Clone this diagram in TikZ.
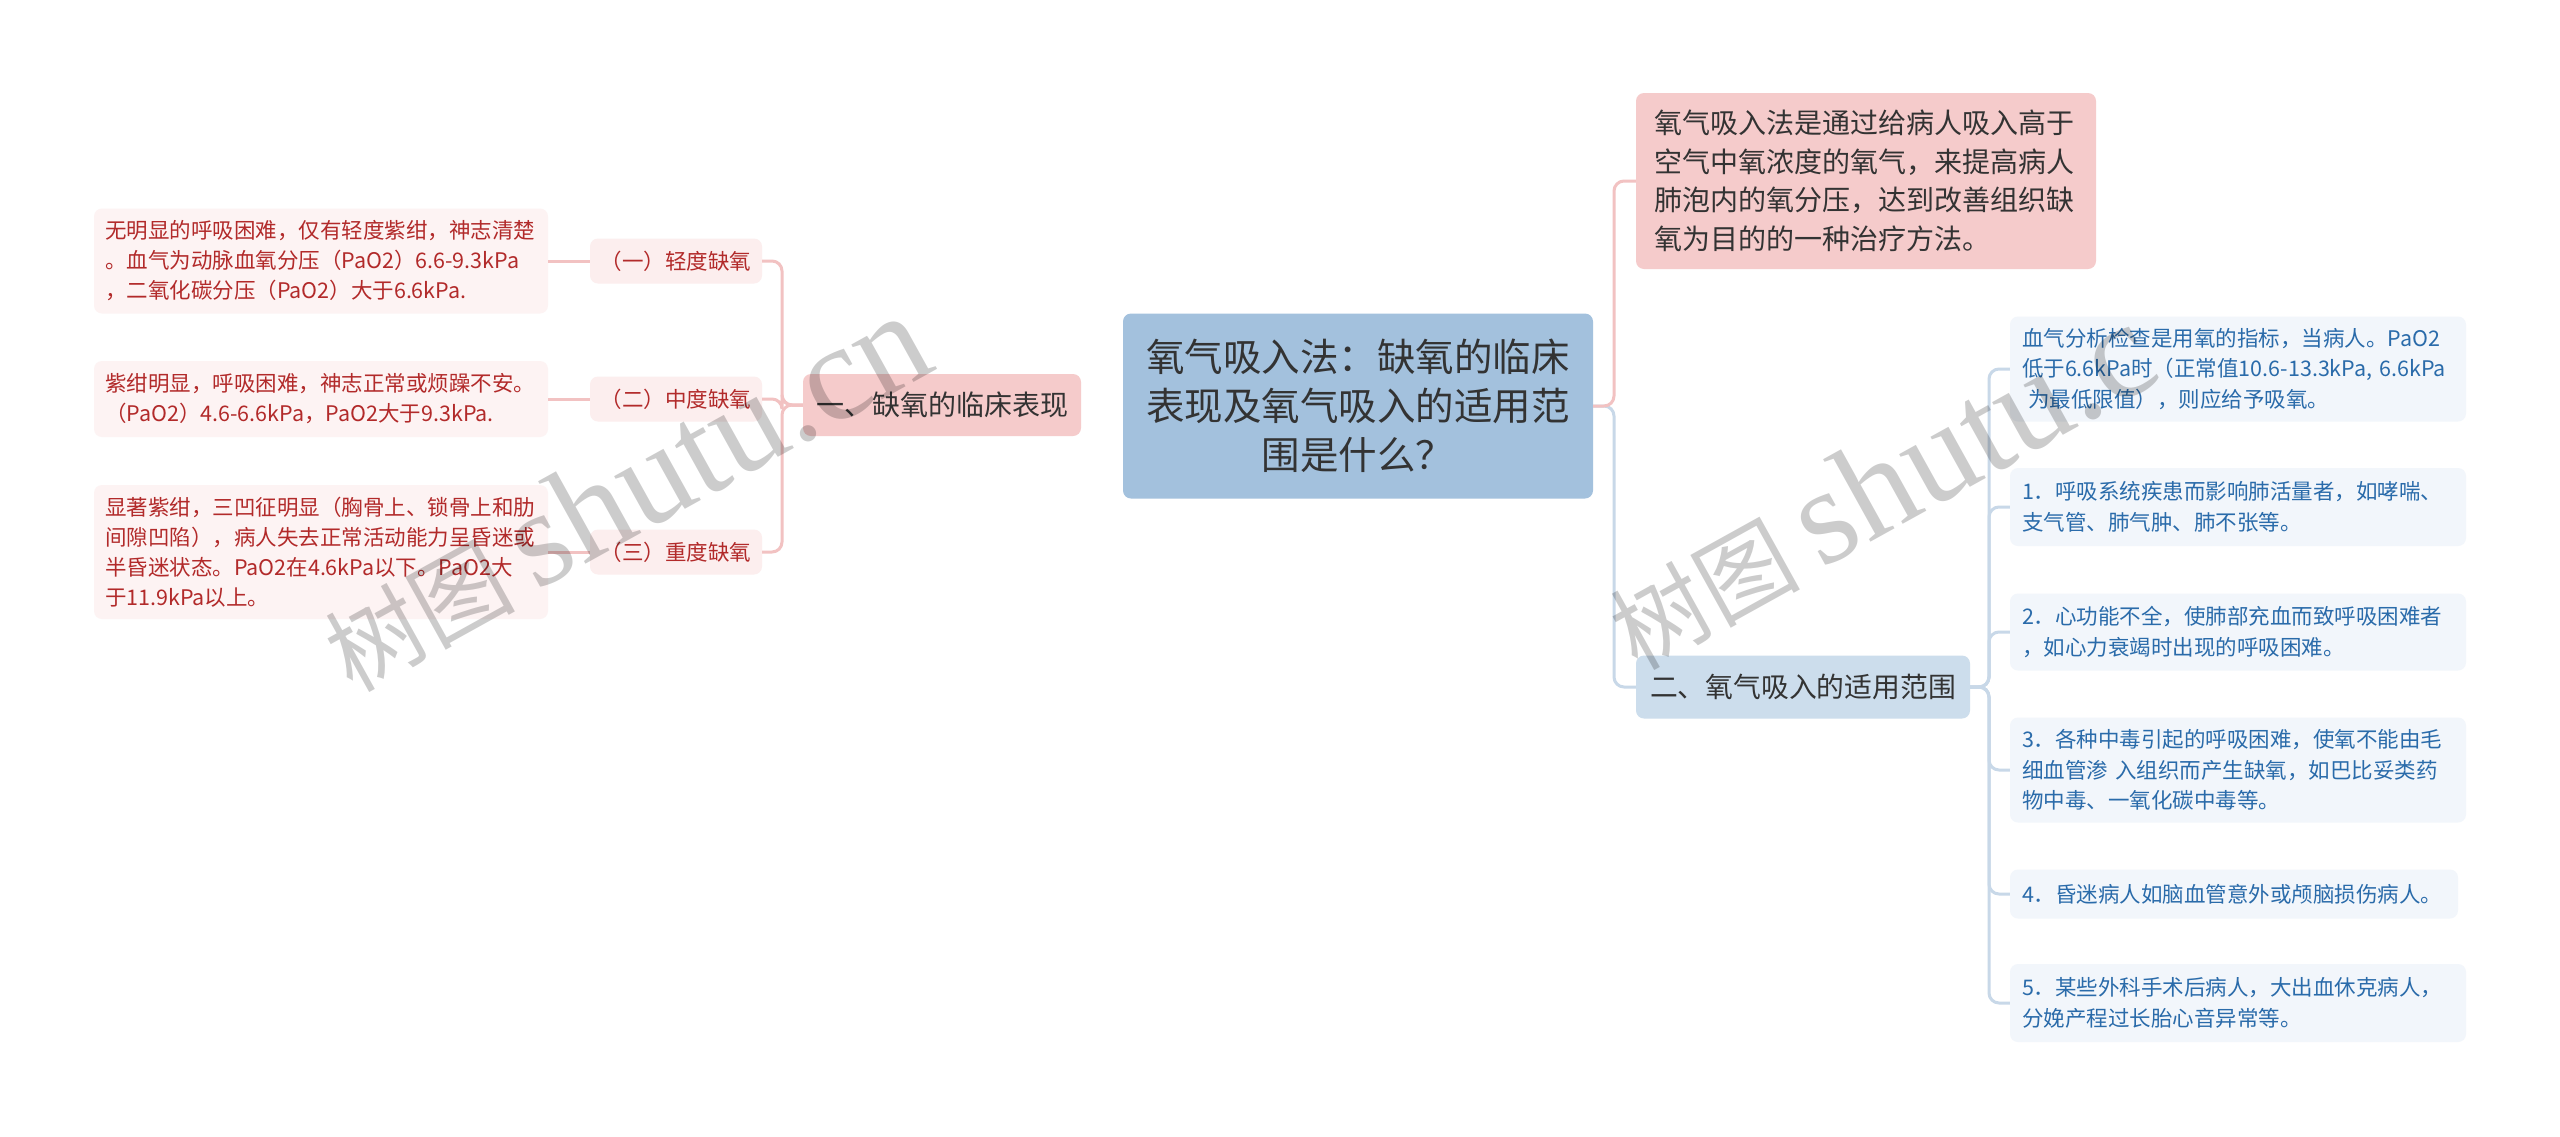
\documentclass[tikz,border=0pt]{standalone}
\usepackage{fontspec}
\setmainfont{Noto Sans CJK SC}
\newfontfamily\wmserif{Liberation Serif}
\definecolor{rootfill}{HTML}{A3C1DD}
\definecolor{pinkmain}{HTML}{F5CBCB}
\definecolor{twofill}{HTML}{CCDDEC}
\definecolor{lablfill}{HTML}{FCEEEE}
\definecolor{lleaffill}{HTML}{FDF3F3}
\definecolor{lefttext}{HTML}{B22A2A}
\definecolor{rleaffill}{HTML}{F2F6FB}
\definecolor{righttext}{HTML}{2A6BAA}
\definecolor{lconncol}{HTML}{F2C2C2}
\definecolor{bconncol}{HTML}{C8D8E8}
\definecolor{textdark}{HTML}{333333}
\begin{document}
\begin{tikzpicture}[x=1pt,y=-1pt,
  box/.style={rectangle, rounded corners=8pt, inner ysep=2pt},
  rootbox/.style={box, fill=rootfill, text=textdark, align=center, inner xsep=20pt,
     font=\fontsize{38.5}{49}\selectfont, minimum width=470, minimum height=185},
  mainpink/.style={box, fill=pinkmain, text=textdark, align=center,
     font=\fontsize{28}{36}\selectfont, minimum width=278, minimum height=62},
  toppink/.style={box, fill=pinkmain, text=textdark, align=left, inner xsep=18pt, text width=424,
     font=\fontsize{28}{38.5}\selectfont, minimum height=176},
  twobox/.style={box, fill=twofill, text=textdark, align=center,
     font=\fontsize{27.8}{36}\selectfont, minimum width=334, minimum height=63},
  lablbox/.style={box, fill=lablfill, text=lefttext, align=center,
     font=\fontsize{21.5}{28}\selectfont, minimum width=172, minimum height=45},
  lleaf/.style={box, fill=lleaffill, text=lefttext, align=left, inner xsep=11pt, text width=432,
     font=\fontsize{21.5}{30}\selectfont},
  rleaf/.style={box, fill=rleaffill, text=righttext, align=left, inner xsep=12pt, text width=432,
     font=\fontsize{21.5}{30.5}\selectfont},
  lconn/.style={draw=lconncol, line width=3pt, rounded corners=10pt},
  bconn/.style={draw=bconncol, line width=3pt, rounded corners=10pt},
  wm/.style={text=black, opacity=0.2, inner sep=0pt}
]
\useasboundingbox (0,0) rectangle (2560,1136);
\fill[white] (0,0) rectangle (2560,1136);

% coordinates for trunks
\coordinate (lj) at (782,405);
\coordinate (rj) at (1614,406);
\coordinate (sj) at (1989,687);

% root
\node[rootbox] (root) at (1358,406) {氧气吸入法：缺氧的临床\\表现及氧气吸入的适用范\\围是什么？};

% left branch
\node[mainpink] (l1) at (942,405) {一、缺氧的临床表现};
\node[lablbox] (la) at (676,261) {（一）轻度缺氧};
\node[lablbox] (lb) at (676,399) {（二）中度缺氧};
\node[lablbox] (lc) at (676,552) {（三）重度缺氧};
\node[lleaf, minimum height=105] (lfa) at (321,261) {无明显的呼吸困难，仅有轻度紫绀，神志清楚\\。血气为动脉血氧分压（PaO2）6.6-9.3kPa\\，二氧化碳分压（PaO2）大于6.6kPa.};
\node[lleaf, minimum height=76] (lfb) at (321,399) {紫绀明显，呼吸困难，神志正常或烦躁不安。\\（PaO2）4.6-6.6kPa，PaO2大于9.3kPa.};
\node[lleaf, minimum height=134] (lfc) at (321,552) {显著紫绀，三凹征明显（胸骨上、锁骨上和肋\\间隙凹陷），病人失去正常活动能力呈昏迷或\\半昏迷状态。PaO2在4.6kPa以下。PaO2大\\于11.9kPa以上。};

% right branch
\node[toppink] (topr) at (1866,181) {氧气吸入法是通过给病人吸入高于\\空气中氧浓度的氧气，来提高病人\\肺泡内的氧分压，达到改善组织缺\\氧为目的的一种治疗方法。};
\node[twobox] (two) at (1803,687) {二、氧气吸入的适用范围};
\node[rleaf, minimum height=105] (r0) at (2238,369) {血气分析检查是用氧的指标，当病人。PaO2\\低于6.6kPa时（正常值10.6-13.3kPa, 6.6kPa\\\hspace{0.3em}为最低限值），则应给予吸氧。};
\node[rleaf, minimum height=78] (r1) at (2238,507) {1．呼吸系统疾患而影响肺活量者，如哮喘、\\支气管、肺气肿、肺不张等。};
\node[rleaf, minimum height=77] (r2) at (2238,632) {2．心功能不全，使肺部充血而致呼吸困难者\\，如心力衰竭时出现的呼吸困难。};
\node[rleaf, minimum height=105] (r3) at (2238,770) {3．各种中毒引起的呼吸困难，使氧不能由毛\\细血管渗 入组织而产生缺氧，如巴比妥类药\\物中毒、一氧化碳中毒等。};
\node[rleaf, minimum height=49, text width=424] (r4) at (2234,894) {4．昏迷病人如脑血管意外或颅脑损伤病人。};
\node[rleaf, minimum height=78] (r5) at (2238,1003) {5．某些外科手术后病人，大出血休克病人，\\分娩产程过长胎心音异常等。};

% connectors left
\draw[lconn] (l1.west) -- (lj) |- (la.east);
\draw[lconn] (l1.west) -- (lj) |- (lb.east);
\draw[lconn] (l1.west) -- (lj) |- (lc.east);
\draw[lconn] (lfa.east) -- (la.west);
\draw[lconn] (lfb.east) -- (lb.west);
\draw[lconn] (lfc.east) -- (lc.west);
% connectors right
\draw[bconn] (root.east) -- (rj) |- (two.west);
\draw[lconn] (root.east) -- (rj) |- (topr.west);
\draw[bconn] (two.east) -- (sj) |- (r0.west);
\draw[bconn] (two.east) -- (sj) |- (r1.west);
\draw[bconn] (two.east) -- (sj) |- (r2.west);
\draw[bconn] (two.east) -- (sj) |- (r3.west);
\draw[bconn] (two.east) -- (sj) |- (r4.west);
\draw[bconn] (two.east) -- (sj) |- (r5.west);

% watermarks
\node[wm, rotate=29, anchor=base west] (wm1) at (352,694) {{\fontsize{95}{95}\selectfont 树图 }{\wmserif\fontsize{137}{137}\selectfont shutu.cn}};
\node[wm, rotate=29, anchor=base west] (wm2) at (1637,672) {{\fontsize{95}{95}\selectfont 树图 }{\wmserif\fontsize{137}{137}\selectfont shutu.c}};
\end{tikzpicture}
\end{document}
